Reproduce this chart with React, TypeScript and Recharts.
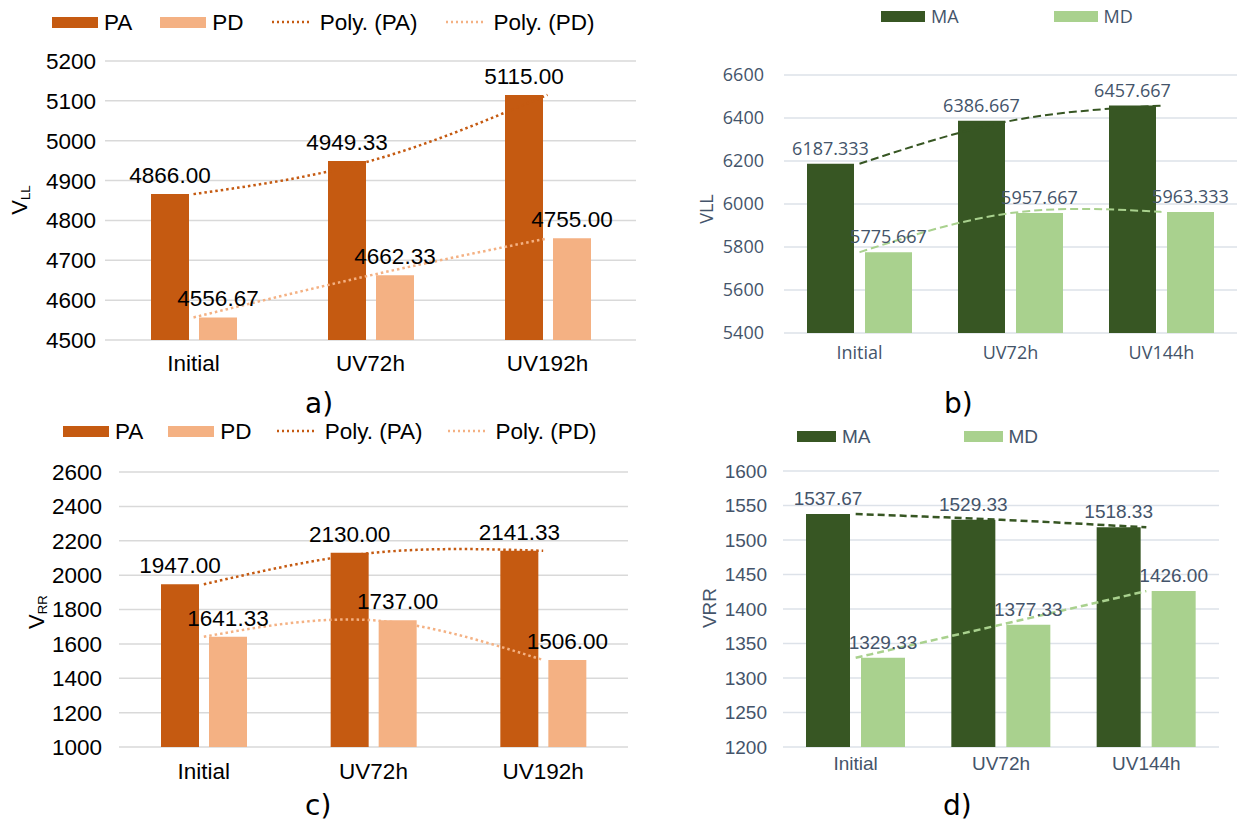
import React from 'react';
import {
  ComposedChart,
  Bar,
  Line,
  XAxis,
  YAxis,
  CartesianGrid,
  LabelList,
  Legend,
} from 'recharts';

// categories
const CATS_P = ['Initial', 'UV72h', 'UV192h'];
const CATS_M = ['Initial', 'UV72h', 'UV144h'];

// a) V_LL, PA / PD
const PA_LL = [4866.0, 4949.33, 5115.0];
const PD_LL = [4556.67, 4662.33, 4755.0];
// b) VLL, MA / MD
const MA_LL = [6187.333, 6386.667, 6457.667];
const MD_LL = [5775.667, 5957.667, 5963.333];
// c) V_RR, PA / PD
const PA_RR = [1947.0, 2130.0, 2141.33];
const PD_RR = [1641.33, 1737.0, 1506.0];
// d) VRR, MA / MD
const MA_RR = [1537.67, 1529.33, 1518.33];
const MD_RR = [1329.33, 1377.33, 1426.0];

// tick labels
const TICKS_A = [4500, 4600, 4700, 4800, 4900, 5000, 5100, 5200];
const TICKS_B = [5400, 5600, 5800, 6000, 6200, 6400, 6600];
const TICKS_C = [1000, 1200, 1400, 1600, 1800, 2000, 2200, 2400, 2600];
const TICKS_D = [1200, 1250, 1300, 1350, 1400, 1450, 1500, 1550, 1600];

const ORANGE = '#C55A11';
const PEACH = '#F4B183';
const DARK_GREEN = '#375623';
const LIGHT_GREEN = '#A9D18E';
const SLATE = '#44546A';

const ARIAL = '"Liberation Sans", Arial, sans-serif';
const OPEN = '"Open Sans", sans-serif';

type LegendItem = { label: string; color: string; kind: 'rect' | 'dots' };

interface PanelProps {
  left: number;
  top: number;
  width: number;
  height: number;
  cats: string[];
  s1: number[];
  s2: number[];
  ticks: number[];
  margin: { top: number; right: number; bottom: number; left: number };
  yWidth: number;
  yTickMargin: number;
  xTickMargin: number;
  barSize: number;
  barGap: number;
  colors: [string, string];
  font: string;
  fontSize: number;
  textColor: string;
  gridColor: string;
  decimals: number;
  labelOffset: number;
  trendDash: string;
  trendWidth: number;
  legendItems: LegendItem[];
  legendX: number;
  legendY: number;
  legendGap: number;
  swatchW: number;
  title: { text: string; sub?: string; x: number; y: number; size: number };
}

function Panel(p: PanelProps) {
  const data = p.cats.map((cat, i) => ({ cat, s1: p.s1[i], s2: p.s2[i] }));
  const tickStyle = { fill: p.textColor, fontSize: p.fontSize, fontFamily: p.font };
  const lineH = Math.round(p.fontSize * 1.2);

  const renderLegend = () => (
    <div
      style={{
        display: 'flex',
        alignItems: 'center',
        whiteSpace: 'nowrap',
        fontFamily: p.font,
        fontSize: p.fontSize,
        lineHeight: `${lineH}px`,
        color: p.textColor,
      }}
    >
      {p.legendItems.map((it) => (
        <div key={it.label} style={{ display: 'flex', alignItems: 'center', marginRight: p.legendGap }}>
          {it.kind === 'rect' ? (
            <span style={{ display: 'inline-block', width: p.swatchW, height: 11, background: it.color, marginRight: 6 }} />
          ) : (
            <svg width={40} height={6} style={{ marginRight: 8 }}>
              <line x1={0} y1={3} x2={40} y2={3} stroke={it.color} strokeWidth={2.5} strokeDasharray="2 3" />
            </svg>
          )}
          <span>{it.label}</span>
        </div>
      ))}
    </div>
  );

  const renderTitle = () => {
    const x = p.title.x - p.left;
    const y = p.title.y - p.top;
    return (
      <text
        x={x}
        y={y}
        transform={`rotate(-90 ${x} ${y})`}
        textAnchor="middle"
        dominantBaseline="central"
        fill={p.textColor}
        fontSize={p.title.size}
        fontFamily={p.font}
      >
        <tspan>{p.title.text}</tspan>
        {p.title.sub && (
          <tspan dy={6} fontSize={p.title.size * 0.6}>
            {p.title.sub}
          </tspan>
        )}
      </text>
    );
  };

  const fmt = (v: number) => Number(v).toFixed(p.decimals);

  return (
    <div style={{ position: 'absolute', left: p.left, top: p.top }}>
      <ComposedChart width={p.width} height={p.height} data={data} margin={p.margin} barGap={p.barGap}>
        <CartesianGrid vertical={false} stroke={p.gridColor} strokeWidth={1.5} />
        <XAxis
          dataKey="cat"
          axisLine={false}
          tickLine={false}
          tickSize={0}
          tickMargin={p.xTickMargin}
          height={40}
          tick={tickStyle}
          interval={0}
        />
        <YAxis
          type="number"
          domain={[p.ticks[0], p.ticks[p.ticks.length - 1]]}
          ticks={p.ticks}
          interval={0}
          axisLine={false}
          tickLine={false}
          tickSize={0}
          tickMargin={p.yTickMargin}
          width={p.yWidth}
          tick={tickStyle}
          label={renderTitle}
        />
        <Legend
          layout="vertical"
          align="center"
          verticalAlign="middle"
          content={renderLegend}
          wrapperStyle={{ left: p.legendX - p.left, top: p.legendY - p.top - lineH / 2, width: 'auto' }}
        />
        <Bar dataKey="s1" fill={p.colors[0]} barSize={p.barSize} isAnimationActive={false}>
          <LabelList
            dataKey="s1"
            position="top"
            offset={p.labelOffset}
            formatter={fmt}
            fill={p.textColor}
            fontSize={p.fontSize}
            fontFamily={p.font}
          />
        </Bar>
        <Bar dataKey="s2" fill={p.colors[1]} barSize={p.barSize} isAnimationActive={false}>
          <LabelList
            dataKey="s2"
            position="top"
            offset={p.labelOffset}
            formatter={fmt}
            fill={p.textColor}
            fontSize={p.fontSize}
            fontFamily={p.font}
          />
        </Bar>
        <Line
          type="natural"
          dataKey="s1"
          stroke={p.colors[0]}
          strokeWidth={p.trendWidth}
          strokeDasharray={p.trendDash}
          dot={false}
          activeDot={false}
          legendType="none"
          isAnimationActive={false}
        />
        <Line
          type="natural"
          dataKey="s2"
          stroke={p.colors[1]}
          strokeWidth={p.trendWidth}
          strokeDasharray={p.trendDash}
          dot={false}
          activeDot={false}
          legendType="none"
          isAnimationActive={false}
        />
      </ComposedChart>
    </div>
  );
}

const P_LEGEND: LegendItem[] = [
  { label: 'PA', color: ORANGE, kind: 'rect' },
  { label: 'PD', color: PEACH, kind: 'rect' },
  { label: 'Poly. (PA)', color: ORANGE, kind: 'dots' },
  { label: 'Poly. (PD)', color: PEACH, kind: 'dots' },
];
const M_LEGEND: LegendItem[] = [
  { label: 'MA', color: DARK_GREEN, kind: 'rect' },
  { label: 'MD', color: LIGHT_GREEN, kind: 'rect' },
];

// shared look of the two orange panels (a, c)
const orangeStyle = {
  colors: [ORANGE, PEACH] as [string, string],
  font: ARIAL,
  fontSize: 22.5,
  textColor: '#000000',
  gridColor: '#D9D9D9',
  decimals: 2,
  labelOffset: 11,
  trendDash: '2.5 3',
  trendWidth: 2.5,
  legendItems: P_LEGEND,
  legendGap: 25,
  swatchW: 46,
  barSize: 38,
  barGap: 10,
};

function Caption({ text, x, y }: { text: string; x: number; y: number }) {
  return (
    <div
      style={{
        position: 'absolute',
        left: x,
        top: y,
        fontFamily: '"DejaVu Sans", sans-serif',
        fontSize: 28,
        lineHeight: '32px',
        color: '#000',
      }}
    >
      {text}
    </div>
  );
}

export default function App() {
  return (
    <div style={{ position: 'absolute', left: 0, top: 0, width: 1237, height: 822, background: '#fff', overflow: 'hidden' }}>
      <Panel
        {...orangeStyle}
        left={0}
        top={0}
        width={640}
        height={420}
        cats={CATS_P}
        s1={PA_LL}
        s2={PD_LL}
        ticks={TICKS_A}
        margin={{ top: 61, right: 4, bottom: 40, left: 0 }}
        yWidth={105}
        yTickMargin={9}
        xTickMargin={15}
        legendX={52}
        legendY={22}
        legendGap={28}
        title={{ text: 'V', sub: 'LL', x: 19, y: 200, size: 22 }}
      />
      <Panel
        left={640}
        top={0}
        width={597}
        height={420}
        cats={CATS_M}
        s1={MA_LL}
        s2={MD_LL}
        ticks={TICKS_B}
        margin={{ top: 75, right: 0, bottom: 47, left: 0 }}
        yWidth={144}
        yTickMargin={20}
        xTickMargin={13}
        barSize={47}
        barGap={11}
        colors={[DARK_GREEN, LIGHT_GREEN]}
        font={OPEN}
        fontSize={18}
        textColor={SLATE}
        gridColor="#DDE2E9"
        decimals={3}
        labelOffset={9}
        trendDash="8 4"
        trendWidth={2}
        legendItems={M_LEGEND}
        legendX={881}
        legendY={16}
        legendGap={95}
        swatchW={44}
        title={{ text: 'VLL', x: 706, y: 209, size: 18 }}
      />
      <Panel
        {...orangeStyle}
        left={0}
        top={410}
        width={640}
        height={412}
        cats={CATS_P}
        s1={PA_RR}
        s2={PD_RR}
        ticks={TICKS_C}
        margin={{ top: 62, right: 12, bottom: 35, left: 0 }}
        yWidth={119}
        yTickMargin={17}
        xTickMargin={16}
        legendX={63}
        legendY={431}
        title={{ text: 'V', sub: 'RR', x: 36, y: 612, size: 22 }}
      />
      <Panel
        left={640}
        top={410}
        width={597}
        height={412}
        cats={CATS_M}
        s1={MA_RR}
        s2={MD_RR}
        ticks={TICKS_D}
        margin={{ top: 61, right: 18, bottom: 35, left: 0 }}
        yWidth={143}
        yTickMargin={16}
        xTickMargin={10}
        barSize={44}
        barGap={11}
        colors={[DARK_GREEN, LIGHT_GREEN]}
        font={ARIAL}
        fontSize={19}
        textColor={SLATE}
        gridColor="#DDE2E9"
        decimals={2}
        labelOffset={9}
        trendDash="7 4"
        trendWidth={2.5}
        legendItems={M_LEGEND}
        legendX={797}
        legendY={436}
        legendGap={93}
        swatchW={39}
        title={{ text: 'VRR', x: 709, y: 608, size: 19 }}
      />
      <Caption text="a)" x={305} y={388} />
      <Caption text="b)" x={944} y={388} />
      <Caption text="c)" x={305} y={790} />
      <Caption text="d)" x={943} y={790} />
    </div>
  );
}
